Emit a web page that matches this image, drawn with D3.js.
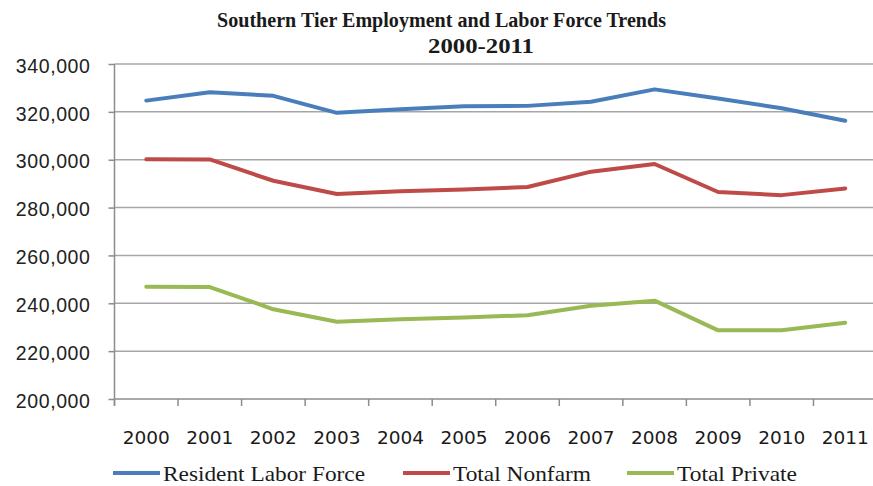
<!DOCTYPE html>
<html>
<head>
<meta charset="utf-8">
<script src="https://cdn.jsdelivr.net/npm/d3@7"></script>
<style>
  html, body { margin: 0; padding: 0; background: #fff; }
  svg { display: block; }
</style>
</head>
<body>
<svg id="chart" width="873" height="486"></svg>
<script>
// Southern Tier employment and labor force, annual totals
const years = ["2000","2001","2002","2003","2004","2005","2006","2007","2008","2009","2010","2011"];
const residentLaborForce = [324700, 328200, 326700, 319600, 321100, 322300, 322500, 324200, 329400, 325600, 321500, 316300];
const totalNonfarm       = [300200, 300100, 291200, 285700, 286800, 287600, 288600, 295000, 298200, 286500, 285200, 288000];
const totalPrivate       = [246900, 246800, 237500, 232300, 233300, 234100, 235000, 239000, 241100, 228700, 228700, 231900];
const yTicks = [200000, 220000, 240000, 260000, 280000, 300000, 320000, 340000];
const seriesNames = ["Resident Labor Force", "Total Nonfarm", "Total Private"];
const seriesColors = ["#4a7ebb", "#be4b48", "#98b954"];

const series = [residentLaborForce, totalNonfarm, totalPrivate].map((vals, i) => ({
  name: seriesNames[i], color: seriesColors[i], values: vals
}));

const svg = d3.select("#chart");
const plotLeft = 114.5, plotRight = 877, plotTop = 64, plotBottom = 399;

const x = d3.scaleBand().domain(years).range([plotLeft, plotRight]).paddingInner(0).paddingOuter(0);
const y = d3.scaleLinear().domain([200000, 340000]).range([plotBottom, plotTop]);

// Title (two lines, condensed bold serif)
const title = svg.append("g")
  .attr("font-family", "'Liberation Serif', 'DejaVu Serif', serif")
  .attr("font-weight", "bold")
  .attr("fill", "#1a1a1a")
  .attr("text-anchor", "middle");
title.append("text").attr("x", 441.5).attr("y", 26.5).attr("font-size", 21)
  .attr("textLength", 449).attr("lengthAdjust", "spacingAndGlyphs")
  .text("Southern Tier Employment and Labor Force Trends");
title.append("text").attr("x", 481).attr("y", 53).attr("font-size", 21)
  .attr("textLength", 106).attr("lengthAdjust", "spacingAndGlyphs")
  .text("2000-2011");

// Horizontal gridlines
svg.append("g").selectAll("line").data(yTicks.slice(1)).join("line")
  .attr("x1", plotLeft).attr("x2", plotRight)
  .attr("y1", d => y(d)).attr("y2", d => y(d))
  .attr("stroke", "#a6a6a6").attr("stroke-width", 1.5);

// Y axis
const yAxis = svg.append("g").attr("transform", `translate(${plotLeft},0)`)
  .call(d3.axisLeft(y).tickValues(yTicks).tickFormat(d3.format(",")).tickSize(6).tickPadding(18));
yAxis.select(".domain").remove();
yAxis.selectAll(".tick line").attr("stroke", "#8c8c8c").attr("stroke-width", 1.5);
yAxis.selectAll(".tick text")
  .attr("font-family", "'Liberation Sans', Arial, sans-serif")
  .attr("font-size", 19.5).attr("letter-spacing", 0.6)
  .attr("fill", "#222").attr("dy", "0.42em");
svg.append("line").attr("x1", plotLeft).attr("x2", plotLeft).attr("y1", plotTop).attr("y2", plotBottom + 7)
  .attr("stroke", "#8c8c8c").attr("stroke-width", 1.5);

// X axis baseline, ticks between categories, and year labels
svg.append("line").attr("x1", plotLeft).attr("x2", plotRight).attr("y1", plotBottom).attr("y2", plotBottom)
  .attr("stroke", "#8c8c8c").attr("stroke-width", 1.5);
const edges = years.map(d => x(d)).concat([x.range()[1]]);
svg.append("g").selectAll("line").data(edges).join("line")
  .attr("x1", d => d).attr("x2", d => d).attr("y1", plotBottom).attr("y2", plotBottom + 7)
  .attr("stroke", "#8c8c8c").attr("stroke-width", 1.5);
svg.append("g").selectAll("text").data(years).join("text")
  .attr("x", d => x(d) + x.bandwidth() / 2).attr("y", 443.5)
  .attr("text-anchor", "middle")
  .attr("font-family", "'DejaVu Sans', sans-serif").attr("font-size", 18.5)
  .attr("fill", "#1a1a1a")
  .text(d => d);

// Series lines
const line = d3.line()
  .x((d, i) => x(years[i]) + x.bandwidth() / 2)
  .y(d => y(d));
svg.append("g").selectAll("path").data(series).join("path")
  .attr("d", d => line(d.values))
  .attr("fill", "none")
  .attr("stroke", d => d.color)
  .attr("stroke-width", 4)
  .attr("stroke-linejoin", "round")
  .attr("stroke-linecap", "round");

// Legend
const legendX = [113, 403, 627];
const legendTextWidth = [202, 138, 120];
const legend = svg.append("g").selectAll("g").data(series).join("g")
  .attr("transform", (d, i) => `translate(${legendX[i]},473)`);
legend.append("line").attr("x1", 0).attr("x2", 47).attr("y1", 0).attr("y2", 0)
  .attr("stroke", d => d.color).attr("stroke-width", 4);
legend.append("text").attr("x", 50).attr("y", 7.5)
  .attr("font-family", "'Liberation Serif', 'DejaVu Serif', serif").attr("font-size", 21)
  .attr("fill", "#1a1a1a")
  .attr("textLength", (d, i) => legendTextWidth[i]).attr("lengthAdjust", "spacingAndGlyphs")
  .text(d => d.name);
</script>
</body>
</html>
